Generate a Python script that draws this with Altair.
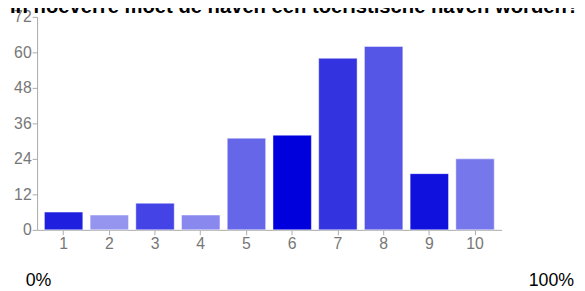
import altair as alt
import pandas as pd

categories = ["1", "2", "3", "4", "5", "6", "7", "8", "9", "10"]
counts = [6, 5, 9, 5, 31, 32, 58, 62, 19, 24]
colors = ["#1f1fe0", "#9595ef", "#4343e6", "#8888ee", "#6666e8",
          "#0000dd", "#3333e0", "#5555e6", "#1111dd", "#7777ec"]
y_ticks = [0, 12, 24, 36, 48, 60, 72]
title_text = "In hoeverre moet de haven een toeristische haven worden?"
left_label = "0%"
right_label = "100%"

FONT = "Arial, Liberation Sans, sans-serif"

df = pd.DataFrame({"cat": categories, "count": counts})

bars = alt.Chart(df).mark_bar(stroke="#ffffff", strokeWidth=1, strokeOpacity=0.45).encode(
    x=alt.X("cat:N", sort=categories,
            scale=alt.Scale(paddingInner=0.16, paddingOuter=0.16),
            axis=alt.Axis(title=None, labelAngle=0, domainColor="#aaaaaa", tickColor="#aaaaaa",
                          tickSize=5, labelColor="#777777", labelFontSize=16, labelFont=FONT,
                          labelPadding=1, grid=False)),
    y=alt.Y("count:Q", scale=alt.Scale(domain=[0, 72], nice=False),
            axis=alt.Axis(title=None, values=y_ticks, domainColor="#aaaaaa", tickColor="#aaaaaa",
                          tickSize=5, labelColor="#777777", labelFontSize=16, labelFont=FONT,
                          labelPadding=1, grid=False)),
    color=alt.Color("cat:N", sort=categories,
                    scale=alt.Scale(domain=categories, range=colors), legend=None),
)

# The reference shows only the lower part of this title, clipped at the top edge.
title = alt.Chart(pd.DataFrame({"t": [title_text]})).mark_text(
    align="left", baseline="alphabetic", fontSize=20.5, fontWeight="bold", font=FONT, color="#000000"
).encode(x=alt.value(-27.5), y=alt.value(-3.5), text="t:N")

left = alt.Chart(pd.DataFrame({"t": [left_label]})).mark_text(
    align="left", baseline="alphabetic", fontSize=18, font=FONT, color="#000000"
).encode(x=alt.value(-11.5), y=alt.value(273), text="t:N")

right = alt.Chart(pd.DataFrame({"t": [right_label]})).mark_text(
    align="right", baseline="alphabetic", fontSize=18, font=FONT, color="#000000"
).encode(x=alt.value(544.5), y=alt.value(273), text="t:N")

chart = alt.layer(bars, title, left, right).properties(
    width=471, height=216,
    autosize=alt.AutoSizeParams(type="none"),
    padding={"left": 29.5, "top": 7, "right": 76.5, "bottom": 60},
).configure_view(stroke=None)

chart.save("out.html", embed_options={"renderer": "svg", "actions": False})
